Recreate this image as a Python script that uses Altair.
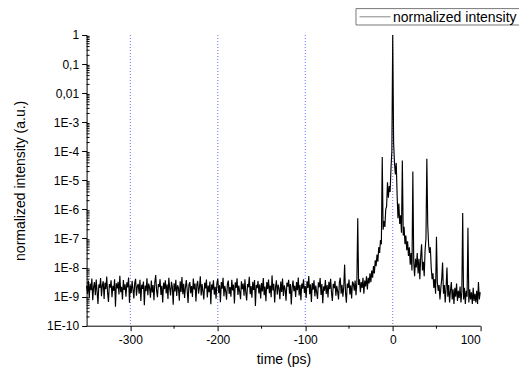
import altair as alt
import pandas as pd

# ---------------- data ----------------
times = list(range(-350, 101))  # ps

# log10 of the normalized intensity, t = -350 ... -46 ps (background)
baseline_log = [
    -8.62, -8.91, -8.45, -9.05, -8.55, -8.78, -8.38, -9.12, -8.66, -8.50, -8.95, -8.41, -8.83, -9.25, -8.58, -8.70, -8.36, -8.99, -8.60, -8.47,
    -9.08, -8.52, -8.74, -8.31, -8.88, -9.18, -8.57, -8.69, -8.44, -9.02, -8.63, -8.80, -8.40, -9.35, -8.54, -8.72, -8.49, -8.93, -8.28, -8.85,
    -8.66, -9.10, -8.43, -8.77, -8.58, -9.00, -8.51, -8.68, -8.34, -9.21, -8.61, -8.87, -8.46, -8.75, -9.06, -8.53, -8.39, -8.97, -8.64, -8.56,
    -8.90, -8.42, -9.15, -8.59, -8.73, -8.48, -9.30, -8.62, -8.81, -8.37, -8.95, -8.55, -8.70, -9.04, -8.45, -8.86, -8.60, -9.12, -8.50, -8.26,
    -8.79, -9.02, -8.57, -8.67, -8.40, -8.94, -8.63, -9.20, -8.52, -8.74, -8.44, -8.89, -8.58, -9.08, -8.35, -8.71, -8.96, -8.49, -8.65, -9.28,
    -8.54, -8.82, -8.42, -8.98, -8.61, -8.70, -9.14, -8.47, -8.84, -8.33, -8.92, -8.56, -9.05, -8.68, -8.43, -8.78, -9.22, -8.59, -8.50, -8.88,
    -8.64, -9.01, -8.38, -8.75, -8.55, -9.17, -8.60, -8.46, -8.90, -8.69, -8.30, -8.96, -8.57, -8.81, -9.10, -8.52, -8.72, -8.41, -9.03, -8.62,
    -8.85, -8.48, -9.26, -8.58, -8.76, -8.44, -8.93, -8.66, -9.07, -8.53, -8.39, -8.87, -8.61, -9.19, -8.50, -8.73, -8.35, -8.99, -8.63, -8.80,
    -9.11, -8.56, -8.45, -8.91, -8.67, -9.00, -8.42, -8.79, -8.59, -9.24, -8.51, -8.70, -8.37, -8.94, -8.62, -8.83, -9.09, -8.47, -8.74, -8.55,
    -8.97, -8.40, -8.86, -9.13, -8.57, -8.68, -8.32, -8.92, -8.64, -9.04, -8.49, -8.77, -8.43, -9.32, -8.60, -8.71, -8.46, -8.89, -8.58, -9.06,
    -8.53, -8.82, -8.36, -8.95, -8.65, -9.16, -8.50, -8.74, -8.41, -8.88, -8.62, -9.02, -8.27, -8.79, -8.56, -9.20, -8.67, -8.44, -8.93, -8.59,
    -8.72, -9.09, -8.48, -8.84, -8.38, -8.98, -8.61, -8.75, -9.14, -8.52, -8.66, -8.42, -8.90, -8.57, -9.27, -8.69, -8.45, -8.81, -8.63, -9.01,
    -8.50, -8.78, -8.34, -8.96, -8.60, -9.12, -8.55, -8.73, -8.40, -8.87, -8.64, -9.05, -8.47, -8.70, -8.29, -8.92, -8.58, -9.18, -8.53, -8.76,
    -8.44, -8.99, -8.62, -8.85, -9.08, -8.51, -8.68, -8.36, -8.94, -8.57, -9.23, -8.65, -8.80, -8.43, -8.91, -8.60, -9.03, -8.49, -8.74, -8.39,
    -8.88, -9.15, -8.56, -8.71, -8.46, -8.97, -8.63, -8.82, -9.10, -8.52, -8.35, -8.90, -8.59, -9.00, -8.67, -7.90, -8.86, -9.21, -8.55, -8.70,
    -8.41, -8.93, -8.61, -9.06, -8.48,
]

# log10 of the normalized intensity, t = -45 ... 100 ps (pulse region)
peak_log = [
    -8.55, -8.80, -8.45, -8.95, -8.50, -6.30, -8.60, -8.40, -8.85, -8.50,   # -45..-36
    -8.70, -8.35, -8.90, -8.45, -8.65, -8.30, -8.75, -8.35, -8.55, -8.20,   # -35..-26
    -8.50, -8.10, -8.35, -7.95, -8.20, -7.75, -7.95, -7.55, -7.80, -7.30,   # -25..-16
    -7.50, -7.05, -7.20, -4.20, -6.70, -6.40, -6.60, -6.00, -5.90, -5.07,   # -15..-6
    -5.60, -5.20, -5.40, -4.60, -4.00, 0.00, -3.70, -4.40, -4.80, -4.40,    # -5..4
    -5.50, -6.30, -5.80, -6.50, -6.20, -6.80, -4.32, -6.90, -6.60, -7.20,   # 5..14
    -6.90, -7.40, -7.10, -7.60, -7.30, -7.90, -7.50, -8.10, -4.70, -7.80,   # 15..24
    -8.30, -7.70, -8.00, -7.50, -8.20, -7.70, -8.40, -7.60, -7.20, -8.10,   # 25..34
    -7.80, -8.30, -7.40, -7.00, -4.26, -6.50, -7.20, -7.50, -7.30, -8.00,   # 35..44
    -8.40, -8.20, -8.70, -8.40, -8.90, -6.94, -8.50, -8.80, -8.60, -9.10,   # 45..54
    -8.70, -8.40, -7.83, -8.90, -8.60, -9.20, -8.70, -8.00, -9.00, -8.60,   # 55..64
    -9.20, -8.80, -8.50, -9.10, -8.75, -9.25, -8.70, -9.00, -8.55, -9.15,   # 65..74
    -8.80, -9.05, -8.65, -9.20, -8.85, -6.12, -9.10, -8.70, -9.25, -8.80,   # 75..84
    -9.00, -6.63, -9.20, -8.75, -9.10, -8.85, -9.25, -8.70, -9.15, -8.90,   # 85..94
    -9.20, -8.80, -9.25, -8.50, -9.10, -8.85,                               # 95..100
]

log_intensity = baseline_log + peak_log

grid_times = [-300, -200, -100, 0]
x_major = [-300, -200, -100, 0, 100]
x_minor = [-250, -150, -50, 50]
y_major = [1, 0.1, 0.01, 1e-3, 1e-4, 1e-5, 1e-6, 1e-7, 1e-8, 1e-9, 1e-10]
y_minor = [m * 10.0 ** k for k in range(-10, 0) for m in range(2, 10)]
legend_label = ["normalized intensity"]

# ---------------- layout ----------------
W, H = 393.6, 290.7
LEFT, TOP = 78.6, 27
X0, Y0 = 8 + LEFT, 8 + TOP  # absolute plot origin
FONT = "Liberation Sans"

df = pd.DataFrame({"time": times, "intensity": [10.0 ** v for v in log_intensity]})

xscale = alt.Scale(domain=[-350, 100], nice=False, zero=False)
yscale = alt.Scale(type="log", domain=[1e-10, 1], nice=False)

grid = alt.Chart(pd.DataFrame({"time": grid_times})).mark_rule(
    color="#5060ff", strokeDash=[1, 2], strokeWidth=0.9
).encode(x=alt.X("time:Q", scale=xscale))

line = alt.Chart(df).mark_line(color="black", strokeWidth=1.15).encode(
    x=alt.X(
        "time:Q",
        scale=xscale,
        axis=alt.Axis(
            values=x_major, title="time (ps)", grid=False, tickSize=5,
            labelPadding=4, labelExpr="'' + datum.value",
            titleX=W / 2, titleY=38.3, titleBaseline="alphabetic",
        ),
    ),
    y=alt.Y(
        "intensity:Q",
        scale=yscale,
        axis=alt.Axis(
            values=y_major, title="normalized intensity (a.u.)", grid=False,
            tickSize=5, labelPadding=3,
            labelExpr="datum.value >= 0.01 ? replace(format(datum.value, ''), '.', ',') : '1E' + round(log(datum.value) / LN10)",
            titleX=-62, titleY=H / 2, titleBaseline="alphabetic", titleAngle=-90,
        ),
    ),
)

xminor = alt.Chart(pd.DataFrame({"time": x_minor})).mark_rule(color="black", strokeWidth=1).encode(
    x=alt.X("time:Q", scale=xscale), y=alt.value(H), y2=alt.value(H + 3)
)
yminor = alt.Chart(pd.DataFrame({"intensity": y_minor})).mark_rule(color="black", strokeWidth=1).encode(
    y=alt.Y("intensity:Q", scale=yscale), x=alt.value(0), x2=alt.value(3)
)

# legend (kept inside the drawable page area)
leg_df = pd.DataFrame({"label": legend_label})
leg_box = alt.Chart(leg_df).mark_rect(fill="white", stroke="#555555", strokeWidth=0.8).encode(
    x=alt.value(356.0 - X0), x2=alt.value(521.0 - X0),
    y=alt.value(8.6 - Y0), y2=alt.value(25.0 - Y0),
)
leg_line = alt.Chart(leg_df).mark_rule(color="#888888", strokeWidth=1).encode(
    x=alt.value(359.5 - X0), x2=alt.value(390.5 - X0), y=alt.value(16.8 - Y0)
)
leg_text = alt.Chart(leg_df).mark_text(
    align="left", baseline="alphabetic", fontSize=14, font=FONT, color="black"
).encode(x=alt.value(393.0 - X0), y=alt.value(21.6 - Y0), text="label:N")

chart = (
    alt.layer(grid, line, xminor, yminor, leg_box, leg_line, leg_text)
    .properties(
        width=W, height=H,
        autosize=alt.AutoSizeParams(type="none"),
        padding={"left": LEFT, "top": TOP, "right": 38.8, "bottom": 41},
    )
    .configure_view(stroke=None)
    .configure_axis(
        domainColor="black", tickColor="black", labelColor="black", titleColor="black",
        labelFont=FONT, titleFont=FONT, labelFontSize=12, titleFontSize=14,
        titleFontWeight="normal", domainWidth=1, tickWidth=1,
    )
)

chart.save("out.html", embed_options={"renderer": "svg", "actions": False})
